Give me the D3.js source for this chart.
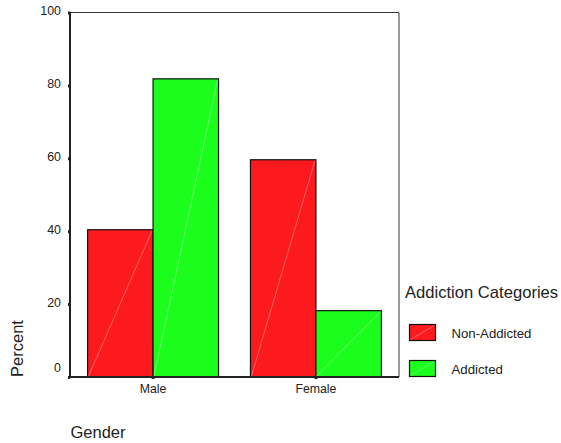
<!DOCTYPE html>
<html>
<head>
<meta charset="utf-8">
<script src="https://cdn.jsdelivr.net/npm/d3@7"></script>
<style>
  html, body { margin: 0; padding: 0; background: #fff; }
  svg { display: block; }
  text { font-family: "Liberation Sans", Arial, sans-serif; fill: #222; }
</style>
</head>
<body>
<svg id="chart" width="561" height="443"></svg>
<script>
const categories = ["Male", "Female"];
const seriesNames = ["Non-Addicted", "Addicted"];
const nonAddicted = [40.4, 59.6];
const addicted = [81.8, 18.2];
const yTicks = [0, 20, 40, 60, 80, 100];
const colors = ["#fd1a1f", "#1bfd1d"];

const svg = d3.select("#chart");
const plot = { left: 70, top: 12.5, right: 399, bottom: 377 };

const x = d3.scaleBand().domain(categories).range([plot.left, plot.right]).paddingInner(0.196).paddingOuter(0.108);
const xs = d3.scaleBand().domain(seriesNames).range([0, x.bandwidth()]);
const y = d3.scaleLinear().domain([0, 100]).range([plot.bottom, plot.top]);

const series = [nonAddicted, addicted];

// frame (top and right)
svg.append("path")
  .attr("d", `M${plot.left},${plot.top}H${plot.right}V${plot.bottom}`)
  .attr("fill", "none").attr("stroke", "#333").attr("stroke-width", 1);

// bars
categories.forEach((c, ci) => {
  seriesNames.forEach((s, si) => {
    const v = series[si][ci];
    const x0 = x(c) + xs(s), w = xs.bandwidth();
    const y0 = y(v), h = y(0) - y(v);
    const g = svg.append("g");
    g.append("rect").attr("x", x0).attr("y", y0).attr("width", w).attr("height", h)
      .attr("fill", colors[si]).attr("stroke", "#111").attr("stroke-width", 1.2);
    g.append("line").attr("x1", x0 + 1).attr("y1", y(0) - 1).attr("x2", x0 + w - 1).attr("y2", y0 + 1)
      .attr("stroke", "rgba(255,255,255,0.45)").attr("stroke-width", 0.7);
  });
});

// y axis
const yAxis = svg.append("g").attr("transform", `translate(${plot.left},0)`)
  .call(d3.axisLeft(y).tickValues(yTicks).tickSize(2).tickPadding(7));
yAxis.select(".domain").attr("stroke", "#222").attr("stroke-width", 2).attr("d", `M0,${plot.bottom}V${plot.top}`);
yAxis.selectAll(".tick line").attr("stroke", "#222").attr("stroke-width", 3).attr("x2", -2);
yAxis.selectAll(".tick text").style("font-size", "12.4px").attr("fill", "#222")
  .style("font-family", "Liberation Sans, Arial, sans-serif")
  .attr("dy", d => d === 0 ? "-0.45em" : "0.2em");

// x axis
const xAxis = svg.append("g").attr("transform", `translate(0,${plot.bottom})`)
  .call(d3.axisBottom(x).tickSize(2).tickPadding(5));
xAxis.select(".domain").attr("stroke", "#222").attr("stroke-width", 2).attr("d", `M${plot.left - 1},0H${plot.right}`);
xAxis.selectAll(".tick line").attr("stroke", "#222").attr("stroke-width", 3);
xAxis.selectAll(".tick text").style("font-size", "12.3px").attr("fill", "#222")
  .style("font-family", "Liberation Sans, Arial, sans-serif");

// axis titles
svg.append("text").attr("x", 70.5).attr("y", 437.5).style("font-size", "16.5px").text("Gender");
svg.append("text").attr("transform", "translate(22.5,348.5) rotate(-90)")
  .attr("text-anchor", "middle").style("font-size", "16.5px").text("Percent");

// legend
const legend = svg.append("g");
legend.append("text").attr("x", 405).attr("y", 297.5).style("font-size", "16.6px").text("Addiction Categories");
const legY = d3.scalePoint().domain(seriesNames).range([324.5, 360.5]);
seriesNames.forEach((s, i) => {
  const yy = legY(s);
  legend.append("rect").attr("x", 409.5).attr("y", yy).attr("width", 26).attr("height", 16)
    .attr("fill", colors[i]).attr("stroke", "#111").attr("stroke-width", 1.2);
  legend.append("line").attr("x1", 410.5).attr("y1", yy + 15).attr("x2", 434.5).attr("y2", yy + 1)
    .attr("stroke", "rgba(255,255,255,0.45)").attr("stroke-width", 0.7);
  legend.append("text").attr("x", 451.5).attr("y", yy + 13.5).style("font-size", "13.2px").text(s);
});
</script>
</body>
</html>
